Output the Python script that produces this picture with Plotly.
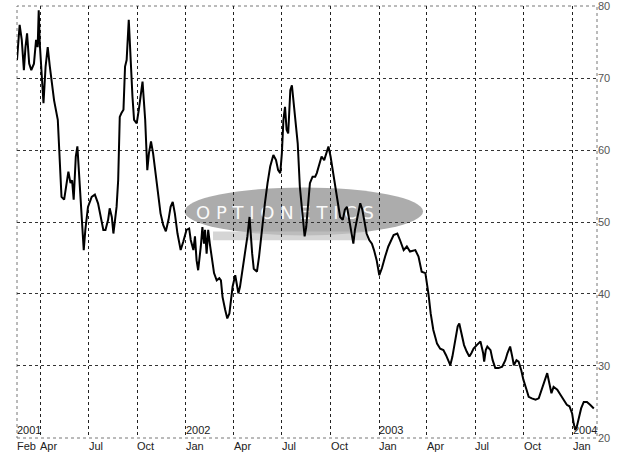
import plotly.graph_objects as go

# weekly implied volatility
dates = [
    "2001-02-16", "2001-02-21", "2001-02-25", "2001-03-01", "2001-03-04", "2001-03-07",
    "2001-03-11", "2001-03-15", "2001-03-20", "2001-03-24", "2001-03-27", "2001-03-29",
    "2001-03-31", "2001-04-04", "2001-04-07", "2001-04-11", "2001-04-15", "2001-04-19",
    "2001-04-22", "2001-04-27", "2001-05-04", "2001-05-07", "2001-05-11", "2001-05-16",
    "2001-05-21", "2001-05-24", "2001-05-28", "2001-05-31", "2001-06-03", "2001-06-07",
    "2001-06-10", "2001-06-13", "2001-06-16", "2001-06-20", "2001-06-22", "2001-06-25",
    "2001-06-30", "2001-07-07", "2001-07-13", "2001-07-19", "2001-07-24", "2001-07-29",
    "2001-08-02", "2001-08-07", "2001-08-10", "2001-08-14", "2001-08-17", "2001-08-20",
    "2001-08-23", "2001-08-26", "2001-08-29", "2001-09-01", "2001-09-05", "2001-09-08",
    "2001-09-11", "2001-09-15", "2001-09-19", "2001-09-22", "2001-09-25", "2001-09-30",
    "2001-10-04", "2001-10-11", "2001-10-16", "2001-10-19", "2001-10-20", "2001-10-23",
    "2001-10-27", "2001-10-31", "2001-11-05", "2001-11-10", "2001-11-14", "2001-11-19",
    "2001-11-24", "2001-11-29", "2001-12-03", "2001-12-07", "2001-12-11", "2001-12-16",
    "2001-12-22", "2001-12-27",
    "2002-01-02", "2002-01-07", "2002-01-10", "2002-01-15", "2002-01-18", "2002-01-21",
    "2002-01-24", "2002-01-29", "2002-02-01", "2002-02-04", "2002-02-06", "2002-02-09",
    "2002-02-12", "2002-02-15", "2002-02-19", "2002-02-23", "2002-02-28", "2002-03-05",
    "2002-03-08", "2002-03-11", "2002-03-16", "2002-03-20", "2002-03-24", "2002-03-27",
    "2002-03-30", "2002-04-04", "2002-04-07", "2002-04-10", "2002-04-13", "2002-04-18",
    "2002-04-22", "2002-04-27", "2002-05-01", "2002-05-03", "2002-05-06", "2002-05-09",
    "2002-05-15", "2002-05-19", "2002-05-24", "2002-05-30", "2002-06-04", "2002-06-09",
    "2002-06-15", "2002-06-20", "2002-06-24", "2002-06-28", "2002-07-01", "2002-07-04",
    "2002-07-07", "2002-07-10", "2002-07-13", "2002-07-17", "2002-07-20", "2002-07-23",
    "2002-07-27", "2002-07-31", "2002-08-04", "2002-08-09", "2002-08-13", "2002-08-16",
    "2002-08-20", "2002-08-23", "2002-08-28", "2002-09-02", "2002-09-05", "2002-09-08",
    "2002-09-11", "2002-09-14", "2002-09-19", "2002-09-24", "2002-09-27", "2002-10-01",
    "2002-10-05", "2002-10-10", "2002-10-14", "2002-10-19", "2002-10-24", "2002-10-28",
    "2002-11-01", "2002-11-04", "2002-11-09", "2002-11-13", "2002-11-16", "2002-11-21",
    "2002-11-26", "2002-11-30", "2002-12-04", "2002-12-08", "2002-12-13", "2002-12-18",
    "2002-12-22", "2002-12-27",
    "2003-01-01", "2003-01-06", "2003-01-12", "2003-01-18", "2003-01-28", "2003-02-04",
    "2003-02-09", "2003-02-16", "2003-02-22", "2003-02-28", "2003-03-10", "2003-03-16",
    "2003-03-22", "2003-03-29", "2003-04-04", "2003-04-08", "2003-04-13", "2003-04-20",
    "2003-04-26", "2003-05-02", "2003-05-07", "2003-05-12", "2003-05-15", "2003-05-19",
    "2003-05-24", "2003-05-29", "2003-06-01", "2003-06-06", "2003-06-10", "2003-06-15",
    "2003-06-20", "2003-06-24", "2003-06-28", "2003-07-04", "2003-07-11", "2003-07-16",
    "2003-07-18", "2003-07-21", "2003-07-24", "2003-07-30", "2003-08-03", "2003-08-08",
    "2003-08-14", "2003-08-21", "2003-08-27", "2003-08-31", "2003-09-05", "2003-09-09",
    "2003-09-12", "2003-09-17", "2003-09-21", "2003-09-26", "2003-09-30", "2003-10-06",
    "2003-10-10", "2003-10-16", "2003-10-23", "2003-10-29", "2003-11-04", "2003-11-10",
    "2003-11-14", "2003-11-18", "2003-11-22", "2003-11-26", "2003-12-03", "2003-12-09",
    "2003-12-15", "2003-12-21", "2003-12-26", "2003-12-31",
    "2004-01-03", "2004-01-06", "2004-01-09", "2004-01-12", "2004-01-17", "2004-01-22",
    "2004-01-28", "2004-02-03", "2004-02-10",
]
vol = [
    72.5, 77.4, 75.3, 71.1, 74.3, 76.2,
    72.0, 71.1, 72.0, 75.3, 74.3, 79.4,
    74.8, 69.7, 66.5, 71.6, 74.3, 71.6,
    69.7, 66.9, 64.2, 60.0, 53.5, 53.1,
    55.8, 57.0, 55.4, 55.8, 53.1, 59.1,
    60.5, 56.8, 53.1, 49.8, 46.1, 48.9,
    52.1, 53.5, 53.8, 52.6, 50.7, 48.9,
    48.9, 50.3, 51.9, 50.7, 48.4, 50.3,
    52.1, 55.8, 64.6, 65.1, 65.6, 71.6,
    72.5, 78.1, 71.6, 67.4, 64.2, 63.7,
    65.6, 69.5, 64.2, 59.1, 57.2, 59.5,
    61.2, 59.5, 56.8, 54.0, 51.2, 49.6,
    48.7, 50.3, 52.1, 52.8, 51.2, 48.4,
    46.1, 47.3,
    48.9, 49.1, 47.5, 46.1, 48.0, 44.7,
    43.3, 46.6, 49.3, 47.0, 48.9, 45.6,
    48.9, 47.0, 44.7, 42.9, 41.9, 42.2,
    41.9, 39.6, 37.8, 36.6, 37.3, 39.2,
    41.0, 42.6, 41.0, 40.1, 41.0, 43.3,
    45.6, 48.0, 50.7, 48.4, 45.6, 43.5,
    43.1, 45.2, 48.9, 52.6, 55.4, 57.7,
    59.3, 58.6, 57.2, 56.8, 59.5, 64.2,
    66.0, 62.8, 62.3, 68.3, 69.0, 66.9,
    64.2, 60.9, 54.9, 50.7, 48.0, 49.3,
    52.6, 55.4, 56.3, 56.3, 56.8, 57.7,
    58.6, 59.1, 58.6, 60.0, 60.5, 59.1,
    57.2, 54.9, 52.6, 50.7, 50.3, 51.7,
    52.1, 50.7, 48.9, 47.0, 48.9, 50.7,
    52.6, 51.7, 50.3, 48.4, 47.5, 47.0,
    46.1, 44.7,
    42.6, 43.6, 45.2, 46.6, 48.2, 48.4,
    47.5, 46.1, 46.6, 45.9, 46.1, 45.2,
    43.1, 42.9, 39.9, 37.3, 35.0, 33.1,
    32.4, 32.2, 31.5, 30.6, 30.1, 31.3,
    33.6, 35.5, 35.9, 34.1, 32.9, 32.0,
    31.3, 31.8, 32.4, 32.9, 33.4, 31.8,
    30.6, 32.2, 32.7, 32.2, 30.8, 29.7,
    29.7, 29.9, 30.8, 31.8, 32.7, 31.3,
    30.1, 30.8, 30.6, 29.4, 28.1, 26.7,
    25.7, 25.5, 25.3, 25.5, 26.7, 28.1,
    29.0, 27.6, 26.2, 27.1, 26.7, 26.0,
    25.3, 24.6, 24.4, 23.4,
    22.0, 21.1, 21.6, 22.5, 24.1, 25.0,
    25.0, 24.6, 24.1,
]

tick_dates = ["2001-02-16", "2001-04-01", "2001-07-01", "2001-10-01", "2002-01-01",
              "2002-04-01", "2002-07-01", "2002-10-01", "2003-01-01", "2003-04-01",
              "2003-07-01", "2003-10-01", "2004-01-01"]
tick_text = ["Feb", "Apr", "Jul", "Oct", "Jan", "Apr", "Jul", "Oct", "Jan", "Apr",
             "Jul", "Oct", "Jan"]
year_dates = ["2001-02-16", "2002-01-01", "2003-01-01", "2004-01-01"]
year_text = ["2001", "2002", "2003", "2004"]
y_ticks = [20, 30, 40, 50, 60, 70, 80]

FONT = "Liberation Sans Narrow, Liberation Sans, Arial"

fig = go.Figure()

# watermark text sits under the line
fig.add_trace(go.Scatter(
    x=["2002-07-07"], y=[51.1], mode="text", text=["O P T I O N E T I C S"],
    textfont=dict(family="DejaVu Sans", size=18, color="rgba(255,255,255,0.95)"),
    hoverinfo="skip", showlegend=False))

fig.add_trace(go.Scatter(
    x=dates, y=vol, mode="lines",
    line=dict(color="black", width=2),
    showlegend=False))

shapes = [
    # watermark ellipse + band
    dict(type="circle", xref="paper", yref="paper", x0=0.289, x1=0.700, y0=0.469,
         y1=0.580, fillcolor="rgba(140,140,140,0.72)", line=dict(width=0), layer="below"),
    dict(type="rect", xref="paper", yref="paper", x0=0.338, x1=0.604, y0=0.458,
         y1=0.478, fillcolor="rgba(195,195,195,0.7)", line=dict(width=0), layer="below"),
    # dotted frame
    dict(type="rect", xref="paper", yref="paper", x0=0, x1=1, y0=0, y1=1,
         line=dict(color="#777", width=1, dash="dot"), layer="below"),
]

annotations = []
for d, t in zip(tick_dates, tick_text):
    annotations.append(dict(x=d, y=0, xref="x", yref="paper", text=t, showarrow=False,
                            xanchor="left", yanchor="top", xshift=-2, yshift=0,
                            font=dict(family=FONT, size=11, color="#222")))
for d, t in zip(year_dates, year_text):
    annotations.append(dict(x=d, y=0, xref="x", yref="paper", text=t, showarrow=False,
                            xanchor="left", yanchor="bottom", xshift=-2, yshift=0,
                            font=dict(family=FONT, size=11, color="#222")))

fig.update_layout(
    width=640, height=454,
    margin=dict(l=17, r=43, t=6, b=16),
    paper_bgcolor="white", plot_bgcolor="white",
    shapes=shapes, annotations=annotations,
    xaxis=dict(
        type="date", range=["2001-02-16", "2004-02-16"],
        tick0="2001-01-01", dtick="M3", showticklabels=False, ticks="",
        showgrid=True, gridcolor="#222", griddash="dot", gridwidth=1,
        showline=False, zeroline=False),
    yaxis=dict(
        range=[19.99, 80.01], side="right", tickvals=y_ticks, ticks="",
        showgrid=True, gridcolor="#333", griddash="dot", gridwidth=1,
        tickfont=dict(family=FONT, size=11, color="#555"),
        ticklabeloverflow="allow",
        showline=False, zeroline=False, automargin=False),
)

# page has a default body margin; drop it so the figure sits at the corner
fig.write_html("out.html", config={"displayModeBar": False},
               post_script="document.body.style.margin='0';")
